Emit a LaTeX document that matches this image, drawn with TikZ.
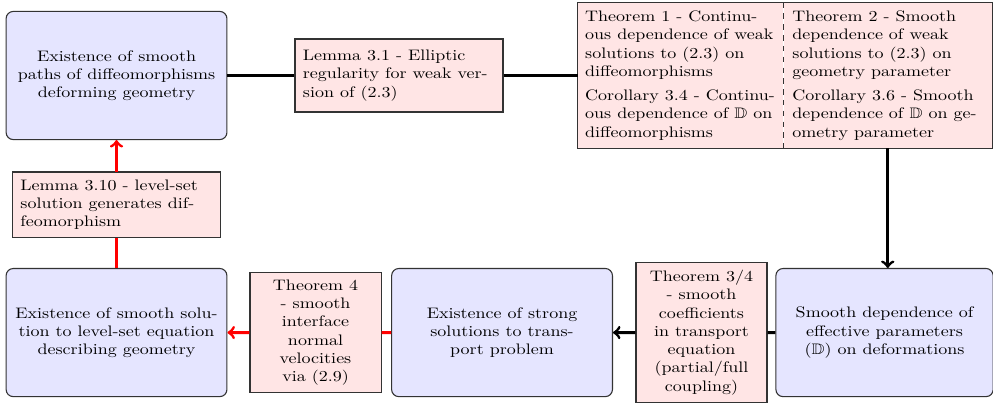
\documentclass[tikz,border=0pt]{standalone}
\usepackage{amssymb}

\begin{document}
\begin{tikzpicture}[
yscale=0.845, transform shape,
blueblock/.style={
    draw=black!80,
    semithick,
    fill=blue!10,
    rounded corners=4pt,
    align=center,
    text width=4.1cm,
    minimum width=4.31cm,
    minimum height=2.96cm,
    inner sep=2pt
},
pinkblock/.style={
    draw=black!80,
    semithick,
    fill=red!10,
    align=left,
    text width=3.75cm,
    inner xsep=4.4pt
},
pinkthm/.style={
    draw=black!80,
    semithick,
    fill=red!10,
    align=center,
    text width=2.1cm,
    minimum width=2.557cm,
    inner sep=2pt
},
pinkcell/.style={
    fill=red!10,
    align=left,
    text width=3.72cm,
    inner xsep=4pt,
    minimum height=3.35cm
},
conn/.style={line width=1.6pt},
redconn/.style={line width=1.6pt, red}
]
\useasboundingbox (0,0) rectangle (19.38,-9.33);

%---------------- Top row ----------------
\node[blueblock] (paths) at (2.274,-1.744)
    {Existence of smooth\\ paths of diffeomorphisms\\ deforming geometry};
\node[pinkblock, minimum height=1.686cm] (ellreg) at (7.787,-1.744)
    {Lemma 3.1 - Elliptic\\ regularity for weak ver-\\ sion of (2.3)};

\node[pinkcell] (thmL) at (13.281,-1.744)
    {Theorem 1 - Continu-\\ ous dependence of weak\\ solutions to (2.3) on\\ diffeomorphisms\\[4pt]
     Corollary 3.4 - Continu-\\ ous dependence of $\mathbb{D}$ on\\ diffeomorphisms};
\node[pinkcell, anchor=west, minimum width=4.06cm] (thmR) at (thmL.east)
    {Theorem 2 - Smooth\\ dependence of weak\\ solutions to (2.3) on\\ geometry parameter\\[4pt]
     Corollary 3.6 - Smooth\\ dependence of $\mathbb{D}$ on ge-\\ ometry parameter};
\draw[draw=black!80, semithick] (thmL.south west) rectangle (thmR.north east);
\draw[draw=black!80, semithick, dashed] (thmL.north east) -- (thmL.south east);

\draw[conn] (paths) -- (ellreg);
\draw[conn] (ellreg) -- (thmL);

%---------------- Left column ----------------
\node[pinkblock, minimum height=1.502cm] (levdiff) at (2.274,-4.724)
    {Lemma 3.10 - level-set\\ solution generates dif-\\ feomorphism};

%---------------- Bottom row ----------------
\node[blueblock] (levset) at (2.274,-7.681)
    {Existence of smooth solu-\\ tion to level-set equation\\ describing geometry};
\node[pinkthm, minimum height=2.772cm] (thmfour) at (6.158,-7.681)
    {Theorem 4\\ - smooth\\ interface\\ normal\\ velocities\\ via (2.9)};
\node[blueblock] (strong) at (9.798,-7.681)
    {Existence of strong\\ solutions to trans-\\ port problem};
\node[pinkthm, minimum height=3.234cm] (thmthree) at (13.691,-7.681)
    {Theorem 3/4\\ - smooth\\ coefficients\\ in transport\\ equation\\ (partial/full\\ coupling)};
\node[blueblock, minimum width=4.196cm] (effpar) at (17.263,-7.681)
    {Smooth dependence of\\ effective parameters\\ ($\mathbb{D}$) on deformations};

\draw[conn,->] (thmR.south) -- (thmR.south |- effpar.north);
\draw[conn] (effpar) -- (thmthree);
\draw[conn,->] (thmthree) -- (strong);

\draw[redconn] (strong) -- (thmfour);
\draw[redconn,->] (thmfour) -- (levset);
\draw[redconn] (levset) -- (levdiff);
\draw[redconn,->] (levdiff) -- (paths);

\end{tikzpicture}
\end{document}
